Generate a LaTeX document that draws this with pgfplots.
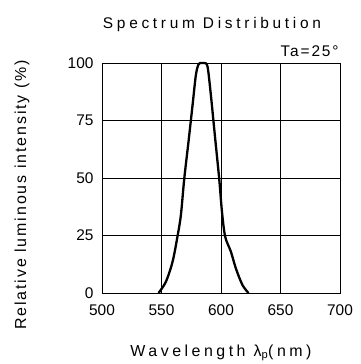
\documentclass[border=0pt]{standalone}
\usepackage{fontspec}
\setmainfont{Liberation Sans}
\newfontfamily\labfont[LetterSpace=12]{Liberation Sans}
\newfontfamily\xlabfont[LetterSpace=22]{Liberation Sans}
\newfontfamily\titfont[LetterSpace=24]{Liberation Sans}
\usepackage{pgfplots}
\pgfplotsset{compat=1.18}
\begin{document}
\begin{tikzpicture}
\path[use as bounding box] (-102bp,-71bp) rectangle (259bp,293bp);
\begin{axis}[
  scale only axis,
  width=238bp, height=230bp,
  xmin=500, xmax=700, ymin=0, ymax=100,
  xtick={500,550,600,650,700},
  ytick={0,25,50,75,100},
  grid=major,
  grid style={black, line width=0.7bp},
  axis line style={black, line width=0.8bp},
  major tick length=0pt,
  tick label style={font=\fontsize{15.5}{17}\selectfont},
  /pgf/number format/assume math mode=true,
  xticklabel style={yshift=-8bp},
  yticklabel style={xshift=-5bp},
  label style={font=\labfont\fontsize{16}{18}\selectfont},
  xlabel={\xlabfont Wavelength λ\textsubscript{p}(nm)},
  xlabel style={at={(axis description cs:0.5,0)}, anchor=center, yshift=-60bp},
  ylabel={Relative luminous intensity (\%)},
  ylabel style={at={(axis description cs:0,0.5)}, anchor=center, xshift=-17bp, yshift=80bp},
  title={Spectrum Distribution},
  title style={font=\titfont\fontsize{15.5}{17}\selectfont, at={(axis description cs:0.5,1)}, anchor=center, yshift=33bp, xshift=-9bp},
  clip=false,
]
\addplot[black, line width=2.3bp, smooth, tension=0.5] coordinates {
(547.5,0) (553.7,4.9) (559.3,13.6) (563.4,24.5) (566.3,33.9) (569.1,49.6)
(572.7,65.8) (576.1,81.7) (578.9,94.8) (581.1,99.4) (583.5,100) (586.0,100)
(588.7,98.4) (591.5,86) (595.1,67.2) (598.5,49.6) (600.8,35.4) (603.5,24.5)
(608.3,18) (612.5,10.7) (618,3.5) (623.1,0)
};
\node[anchor=base east, font=\labfont\fontsize{15.5}{17}\selectfont, inner sep=0pt] at (axis description cs:0.995,1) [yshift=6bp] {Ta=25°};
\end{axis}
\end{tikzpicture}
\end{document}
